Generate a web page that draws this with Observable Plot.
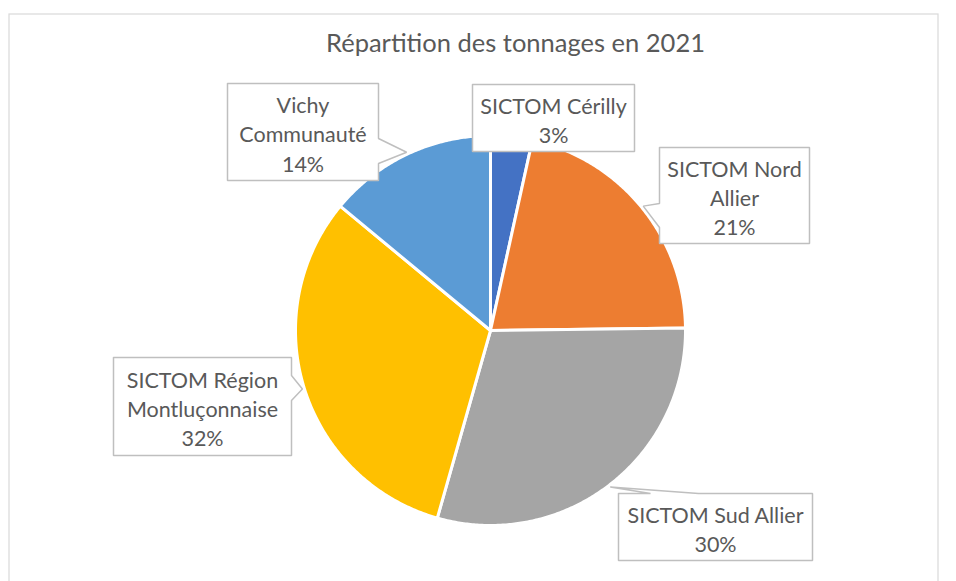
<!DOCTYPE html>
<html>
<head>
<meta charset="utf-8">
<script src="https://cdn.jsdelivr.net/npm/d3@7"></script>
<script src="https://cdn.jsdelivr.net/npm/@observablehq/plot@0.6"></script>
<style>
  html, body { margin: 0; padding: 0; background: #fff; }
  svg { display: block; }
</style>
</head>
<body>
<div id="chart"></div>
<script>
// ---- Data ----
const title = "Répartition des tonnages en 2021";
const names = ["SICTOM Cérilly", "SICTOM Nord Allier", "SICTOM Sud Allier", "SICTOM Région Montluçonnaise", "Vichy Communauté"];
// shares (%); labels show rounded values
const shares = [3.45, 21.35, 29.6, 31.6, 14.0];
const labelNames = ["SICTOM Cérilly", "SICTOM Nord\nAllier", "SICTOM Sud Allier", "SICTOM Région\nMontluçonnaise", "Vichy\nCommunauté"];
const colors = ["#4472C4", "#ED7D31", "#A5A5A5", "#FFC000", "#5B9BD5"];

// ---- Layout (pixels) ----
const W = 956, H = 581;
const center = {x: 490, y: 330}, R = 195;
const boxes = [
  {x0: 472, y0: 84, x1: 634, y1: 151, side: null},
  {x0: 659, y0: 147, x1: 809, y1: 243, side: "left", b0: 203, b1: 227},
  {x0: 618, y0: 493, x1: 812, y1: 560, side: "top", b0: 650, b1: 698},
  {x0: 113, y0: 357, x1: 291, y1: 455, side: "right", b0: 375, b1: 400},
  {x0: 227, y0: 83, x1: 378, y1: 180, side: "right", b0: 138, b1: 163}
];
const FONT = "Lato, 'Open Sans', sans-serif";
const textColor = "#595959";

// ---- Geometry from data ----
const arcs = d3.pie().sort(null).value(d => d)(shares);
const pt = (a, r) => ({x: center.x + r * Math.sin(a), y: center.y - r * Math.cos(a)});

const slicePts = [];
arcs.forEach((a, i) => {
  slicePts.push({name: names[i], ...center});
  const n = Math.max(2, Math.ceil((a.endAngle - a.startAngle) / (Math.PI / 360)));
  for (let k = 0; k <= n; k++) {
    const t = a.startAngle + (a.endAngle - a.startAngle) * k / n;
    slicePts.push({name: names[i], ...pt(t, R)});
  }
  slicePts.push({name: names[i], ...center});
});

const boxPts = [];
arcs.forEach((a, i) => {
  const b = boxes[i];
  const tip = pt((a.startAngle + a.endAngle) / 2, R + 2);
  const p = [];
  p.push({x: b.x0, y: b.y0});
  if (b.side === "top") { p.push({x: b.b0, y: b.y0}, tip, {x: b.b1, y: b.y0}); }
  p.push({x: b.x1, y: b.y0});
  if (b.side === "right") { p.push({x: b.x1, y: b.b0}, tip, {x: b.x1, y: b.b1}); }
  p.push({x: b.x1, y: b.y1});
  p.push({x: b.x0, y: b.y1});
  if (b.side === "left") { p.push({x: b.x0, y: b.b1}, tip, {x: b.x0, y: b.b0}); }
  p.push({x: b.x0, y: b.y0});
  p.forEach(q => boxPts.push({name: names[i], x: q.x, y: q.y}));
});

const labels = arcs.map((a, i) => ({
  x: (boxes[i].x0 + boxes[i].x1) / 2,
  y: (boxes[i].y0 + boxes[i].y1) / 2 + 1,
  text: labelNames[i] + "\n" + Math.round(shares[i]) + "%"
}));

const chart = Plot.plot({
  width: W,
  height: H,
  margin: 0,
  x: {domain: [0, W], range: [0, W], axis: null},
  y: {domain: [0, H], range: [0, H], axis: null},
  color: {domain: names, range: colors},
  style: {fontFamily: FONT, background: "#fff"},
  marks: [
    Plot.rect([{x1: 9, x2: 938, y1: 14, y2: H + 20}], {x1: "x1", x2: "x2", y1: "y1", y2: "y2", fill: "none", stroke: "#D9D9D9", strokeWidth: 1.2}),
    Plot.text([title], {x: () => 515, y: () => 43, text: d => d, fontSize: 25.5, fill: textColor, textAnchor: "middle", lineAnchor: "middle"}),
    Plot.line(slicePts, {x: "x", y: "y", z: "name", fill: "name", stroke: "#fff", strokeWidth: 3, strokeLinejoin: "round", curve: "linear"}),
    Plot.line(boxPts, {x: "x", y: "y", z: "name", fill: "#fff", stroke: "#BFBFBF", strokeWidth: 1.5, strokeLinejoin: "miter", curve: "linear"}),
    Plot.text(labels, {x: "x", y: "y", text: "text", fontSize: 21.5, lineHeight: 1.36, fill: textColor, textAnchor: "middle", lineAnchor: "middle"})
  ]
});
document.getElementById("chart").appendChild(chart);
</script>
</body>
</html>
